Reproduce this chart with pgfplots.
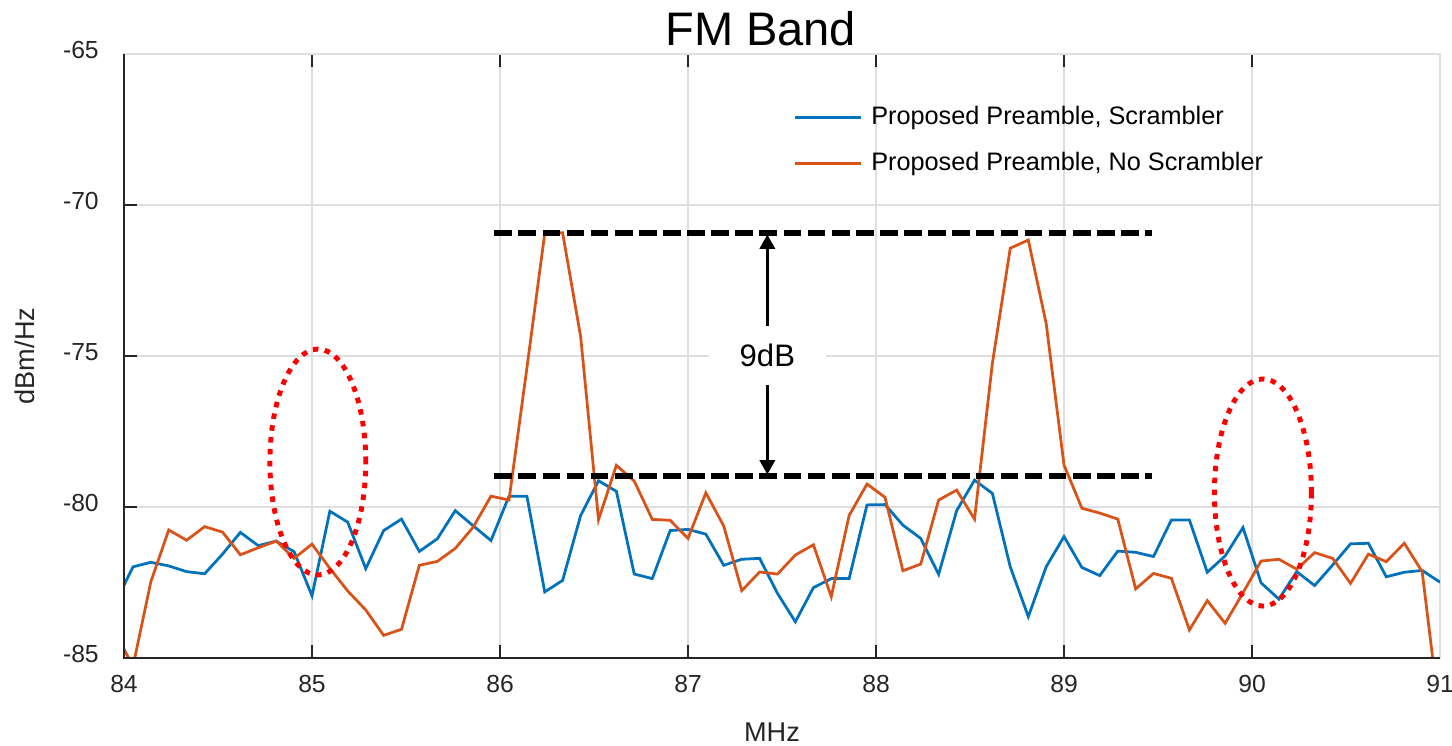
\documentclass[border=0pt]{standalone}
\usepackage{fontspec}
\setmainfont{Liberation Sans}
\usepackage{pgfplots}
\usepackage{pgfplotstable}
\pgfplotsset{compat=1.18}
\usetikzlibrary{arrows.meta}
\definecolor{mblue}{rgb}{0,0.447,0.741}
\definecolor{morange}{rgb}{0.850,0.325,0.098}
\definecolor{gridgray}{RGB}{223,223,223}
\definecolor{axisdark}{RGB}{38,38,38}

% PSD of both preamble variants
\pgfplotstableread{
x      blue    orange
83.952 -83.20  -84.15
84.048 -81.98  -85.27
84.143 -81.83  -82.47
84.238 -81.95  -80.76
84.333 -82.14  -81.10
84.429 -82.21  -80.65
84.524 -81.56  -80.83
84.619 -80.84  -81.58
84.714 -81.28  -81.35
84.810 -81.13  -81.13
84.905 -81.48  -81.70
85.000 -82.94  -81.23
85.095 -80.14  -82.03
85.190 -80.50  -82.78
85.286 -82.04  -83.41
85.381 -80.78  -84.25
85.476 -80.40  -84.05
85.571 -81.47  -81.93
85.667 -81.05  -81.80
85.762 -80.12  -81.37
85.857 -80.62  -80.67
85.952 -81.11  -79.64
86.048 -79.64  -79.77
86.143 -79.64  -75.40
86.238 -82.81  -70.94
86.333 -82.43  -70.92
86.429 -80.28  -74.36
86.524 -79.13  -80.42
86.619 -79.48  -78.62
86.714 -82.22  -79.14
86.810 -82.37  -80.41
86.905 -80.78  -80.44
87.000 -80.74  -81.04
87.095 -80.90  -79.53
87.190 -81.93  -80.63
87.286 -81.73  -82.77
87.381 -81.70  -82.15
87.476 -82.86  -82.22
87.571 -83.80  -81.59
87.667 -82.67  -81.25
87.762 -82.37  -82.97
87.857 -82.37  -80.28
87.952 -79.93  -79.24
88.048 -79.92  -79.68
88.143 -80.60  -82.11
88.238 -81.04  -81.89
88.333 -82.23  -79.77
88.429 -80.12  -79.44
88.524 -79.11  -80.40
88.619 -79.55  -75.24
88.714 -81.98  -71.43
88.810 -83.63  -71.16
88.905 -81.98  -73.92
89.000 -80.98  -78.61
89.095 -82.00  -80.04
89.190 -82.27  -80.20
89.286 -81.46  -80.40
89.381 -81.50  -82.71
89.476 -81.64  -82.20
89.571 -80.43  -82.36
89.667 -80.43  -84.07
89.762 -82.16  -83.10
89.857 -81.62  -83.85
89.952 -80.68  -82.84
90.048 -82.51  -81.79
90.143 -83.05  -81.73
90.238 -82.14  -82.06
90.333 -82.60  -81.51
90.429 -81.92  -81.70
90.524 -81.22  -82.53
90.619 -81.20  -81.56
90.714 -82.31  -81.81
90.810 -82.16  -81.20
90.905 -82.10  -82.14
91.000 -82.49  -87.00
}\spectrum

\begin{document}
\begin{tikzpicture}
\begin{axis}[
  scale only axis, width=453.2pt, height=208pt,
  xmin=84, xmax=91, ymin=-85, ymax=-65,
  xtick={84,85,...,91}, ytick={-85,-80,...,-65},
  xtick pos=both, ytick pos=left,
  grid=major, major grid style={gridgray, line width=0.4pt},
  axis line style={gridgray, line width=0.5pt},
  tick style={axisdark, line width=0.6pt}, major tick length=4.6pt, tick align=inside,
  /pgf/number format/assume math mode=true,
  tick label style={font=\fontsize{8.5}{10}\selectfont, text=axisdark},
  yticklabel style={anchor=east, inner sep=0pt, xshift=-8.5pt, yshift=1.5pt},
  xticklabel style={anchor=north, inner sep=0pt, yshift=-5.9pt},
  xlabel={MHz}, ylabel={dBm/Hz},
  label style={font=\fontsize{9.35}{11}\selectfont, text=axisdark},
  xlabel style={at={([yshift=-25.5pt]rel axis cs:0.4924,0)}, anchor=center},
  ylabel style={at={([xshift=-34.1pt]rel axis cs:0,0.5)}, anchor=center},
  legend style={at={(rel axis cs:0.5084,0.9141)}, anchor=north west, draw=none, fill=none,
    inner sep=0pt, row sep=8.0pt, column sep=3.1pt,
    font=\fontsize{8.7}{10}\selectfont, nodes={inner sep=0pt}},
  legend cell align=left,
  legend image code/.code={\draw[#1, line width=0.95pt] (0pt,0pt) -- (22.7pt,0pt);},
]
\addplot[mblue, line width=0.95pt] table[x=x, y=blue] {\spectrum};
\addlegendentry{Proposed Preamble, Scrambler}
\addplot[morange, line width=0.95pt] table[x=x, y=orange] {\spectrum};
\addlegendentry{Proposed Preamble, No Scrambler}

% 9 dB markers
\addplot[black, line width=1.85pt, dash pattern=on 6.1pt off 2.2pt, forget plot] coordinates {(85.97,-70.93) (89.47,-70.93)};
\addplot[black, line width=1.85pt, dash pattern=on 6.1pt off 2.2pt, forget plot] coordinates {(85.97,-78.97) (89.47,-78.97)};
\node[fill=white, inner xsep=10.6pt, inner ysep=2pt, font=\fontsize{10.7}{12}\selectfont] at (axis cs:87.422,-74.98) {9dB};
\draw[line width=0.8pt, -{Triangle[width=5.3pt,length=4.9pt]}] (axis cs:87.422,-74.01) -- (axis cs:87.422,-70.98);
\draw[line width=0.8pt, -{Triangle[width=5.3pt,length=4.9pt]}] (axis cs:87.422,-75.96) -- (axis cs:87.422,-78.92);

% red dotted ellipses
\draw[red, line width=1.7pt, dash pattern=on 1.9pt off 2.2pt] (axis cs:85.031,-78.51) ellipse [x radius=0.255, y radius=3.74];
\draw[red, line width=1.7pt, dash pattern=on 1.9pt off 2.2pt] (axis cs:90.058,-79.52) ellipse [x radius=0.258, y radius=3.76];

\coordinate (bl) at (rel axis cs:0,0);
\coordinate (tl) at (rel axis cs:0,1);
\coordinate (br) at (rel axis cs:1,0);
\coordinate (tr) at (rel axis cs:1,1);
\coordinate (tt) at (axis cs:87.387,-65);
\end{axis}
\draw[axisdark, line width=0.6pt] (tl) -- (bl) -- (br);
\node[anchor=base, inner sep=0pt, font=\fontsize{16.2}{19}\selectfont] at ([yshift=3.1pt]tt) {FM Band};
\pgfresetboundingbox
\path ([xshift=-42.7pt,yshift=-29.96pt]bl) rectangle ([xshift=4.13pt,yshift=18.6pt]tr);
\end{tikzpicture}
\end{document}
